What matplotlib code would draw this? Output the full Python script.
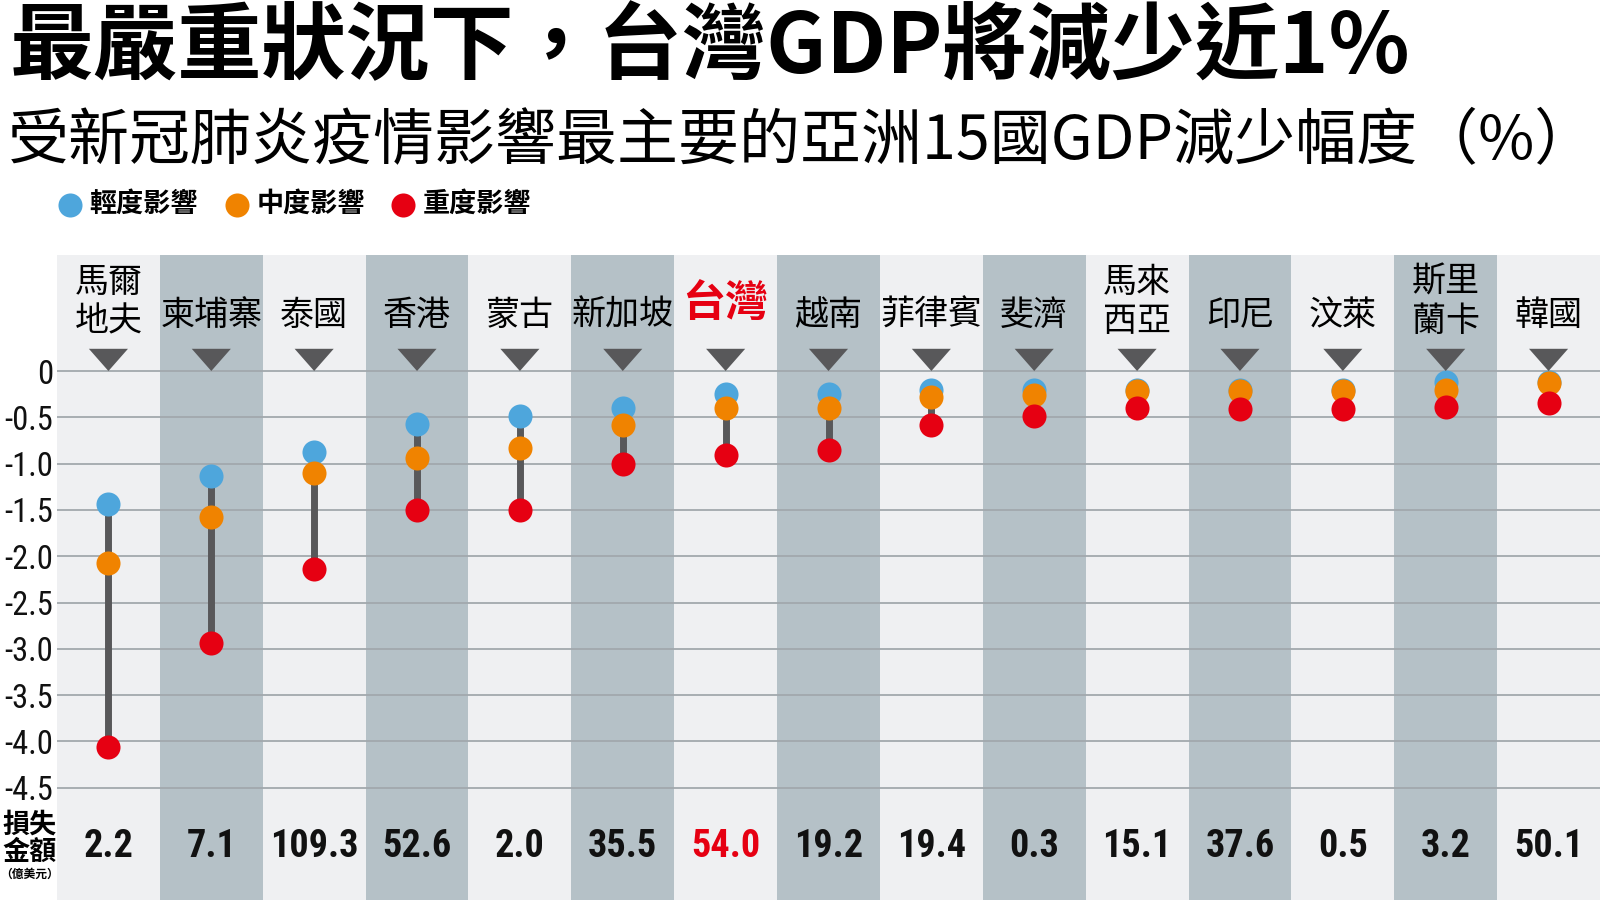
import numpy as np
import matplotlib
matplotlib.use('Agg')
import matplotlib.pyplot as plt
from matplotlib import font_manager as fm
from matplotlib.patches import Polygon
from matplotlib.transforms import blended_transform_factory

CJK = ['Noto Sans CJK TC', 'DejaVu Sans']

# condensed latin font for the numbers, if one is installed
names = {f.name for f in fm.fontManager.ttflist}
narrow = next((n for n in ['Liberation Sans Narrow', 'Roboto Condensed', 'DejaVu Sans Condensed'] if n in names), None)
if narrow is None:
    narrow, tick_fs, loss_fs = 'Roboto', 19, 22.5
else:
    tick_fs, loss_fs = 23.5, 27.5

title = '最嚴重狀況下，台灣GDP將減少近1%'
subtitle = '受新冠肺炎疫情影響最主要的亞洲15國GDP減少幅度（%）'
series_names = ['輕度影響', '中度影響', '重度影響']

countries = ['馬爾\n地夫', '柬埔寨', '泰國', '香港', '蒙古', '新加坡', '台灣', '越南',
             '菲律賓', '斐濟', '馬來\n西亞', '印尼', '汶萊', '斯里\n蘭卡', '韓國']
mild = [-1.44, -1.13, -0.87, -0.57, -0.49, -0.40, -0.25, -0.25, -0.20, -0.20, -0.20, -0.20, -0.20, -0.12, -0.12]
moderate = [-2.07, -1.58, -1.10, -0.94, -0.83, -0.58, -0.40, -0.40, -0.28, -0.26, -0.22, -0.22, -0.22, -0.21, -0.13]
severe = [-4.06, -2.94, -2.14, -1.50, -1.50, -1.00, -0.91, -0.85, -0.58, -0.49, -0.40, -0.41, -0.41, -0.39, -0.35]
loss = [2.2, 7.1, 109.3, 52.6, 2.0, 35.5, 54.0, 19.2, 19.4, 0.3, 15.1, 37.6, 0.5, 3.2, 50.1]
yticks = [0, -0.5, -1.0, -1.5, -2.0, -2.5, -3.0, -3.5, -4.0, -4.5]
highlight = '台灣'

LIGHT, DARK = '#eff0f2', '#b5c1c7'
GRID = '#a2a8ad'
STEM = '#58585a'
BLUE, ORANGE, RED = '#4ea6dc', '#f08300', '#e60012'

W, H = 1600, 906
fig = plt.figure(figsize=(16, 9.06), dpi=100)
ax = fig.add_axes([57 / W, 6 / H, 1 - 57 / W, 645 / H])
n = len(countries)
ax.set_xlim(0, n)
ax.set_ylim(-5.713, 1.253)

for i in range(n):
    ax.axvspan(i, i + 1, color=LIGHT if i % 2 == 0 else DARK, lw=0, zorder=0)
for g in yticks:
    ax.axhline(g, color=GRID, lw=1.3, zorder=1)

x = np.arange(n) + 0.5
ax.vlines(x, severe, mild, color=STEM, lw=5, zorder=2)
h1 = ax.scatter(x, mild, s=300, color=BLUE, linewidths=0, zorder=3)
h2 = ax.scatter(x, moderate, s=300, color=ORANGE, linewidths=0, zorder=3)
h3 = ax.scatter(x, severe, s=300, color=RED, linewidths=0, zorder=3)

for i, name in enumerate(countries):
    xi = x[i]
    ax.add_patch(Polygon([[xi - 0.19, 0.24], [xi + 0.19, 0.24], [xi, 0]], closed=True,
                         color=STEM, lw=0, zorder=4))
    if name == highlight:
        ax.text(xi, 0.72, name, ha='center', va='center', fontsize=31, fontweight='bold',
                color=RED, family=CJK)
    else:
        yl = 0.745 if '\n' in name else 0.605
        ax.text(xi, yl, name, ha='center', va='center', fontsize=24.5, linespacing=1.15,
                color='black', family=CJK)
    ax.text(xi, -5.14, f'{loss[i]:.1f}', ha='center', va='center', fontsize=loss_fs,
            fontweight='bold', family=narrow, color=RED if name == highlight else '#111111')

ax.set_yticks(yticks)
ax.set_yticklabels(['0' if v == 0 else f'{v:.1f}' for v in yticks])
ax.tick_params(axis='y', length=0, pad=3, labelsize=tick_fs, labelcolor='#111111')
for lab in ax.get_yticklabels():
    lab.set_family(narrow)
ax.set_xticks([])
for s in ax.spines.values():
    s.set_visible(False)

trans = blended_transform_factory(fig.transFigure, ax.transData)
fig.text(30 / W, -4.90, '損失', transform=trans, ha='center', va='center', fontsize=19.5,
         fontweight='bold', family=CJK)
fig.text(30 / W, -5.19, '金額', transform=trans, ha='center', va='center', fontsize=19.5,
         fontweight='bold', family=CJK)
fig.text(30 / W, -5.44, '（億美元）', transform=trans, ha='center', va='center', fontsize=8.5,
         fontweight='bold', family=CJK)

fig.legend([h1, h2, h3], series_names, loc='center left', bbox_to_anchor=(57 / W, 1 - 204 / H),
           ncol=3, frameon=False, borderpad=0, borderaxespad=0, handlelength=0.95,
           handletextpad=0.25, columnspacing=0.95, scatterpoints=1,
           prop=dict(family=CJK, size=19.5, weight='bold'))

t = fig.text(10 / W, 1 - 49 / H, title, fontsize=58, fontweight='heavy', family=CJK, va='center')
st = fig.text(8 / W, 1 - 142 / H, subtitle, fontsize=43, family=CJK, va='center')
fig.canvas.draw()
r = fig.canvas.get_renderer()
for txt, target in [(t, 1400), (st, 1588)]:
    w = txt.get_window_extent(r).width
    txt.set_fontsize(txt.get_fontsize() * target / w)

fig.savefig('out.png', dpi=100)
